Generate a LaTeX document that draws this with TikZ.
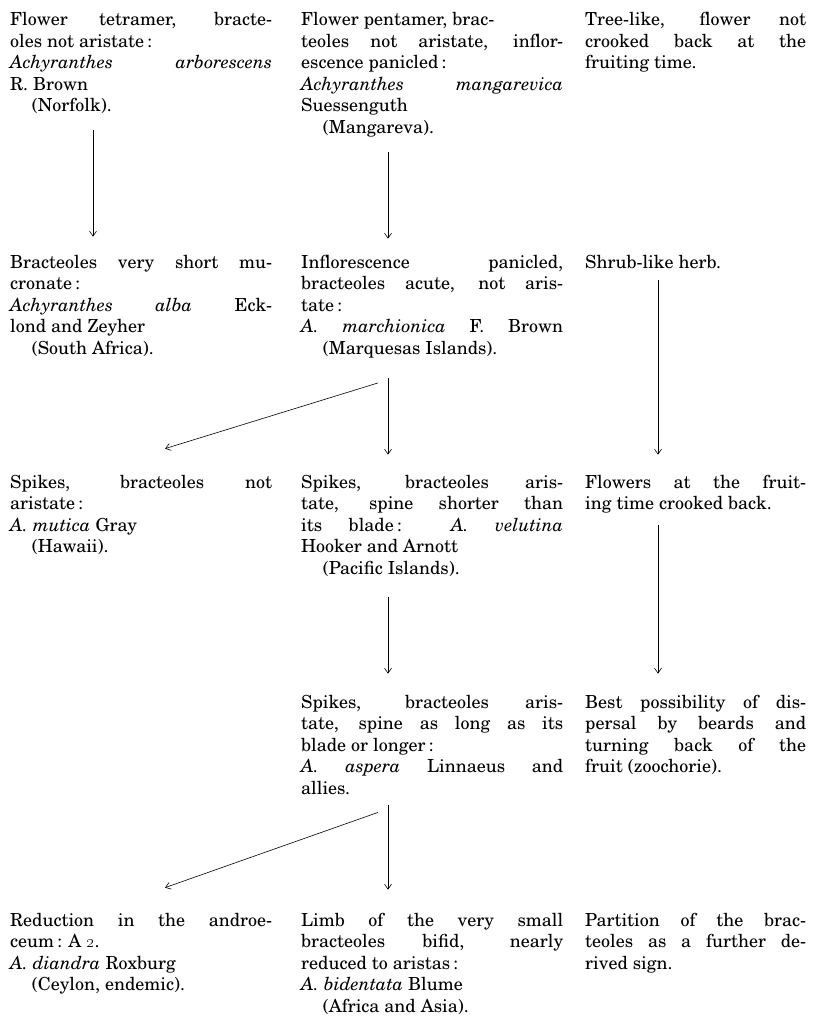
\documentclass[tikz,border=0pt]{standalone}
\usepackage[T1]{fontenc}
\usepackage{newcent}
\usetikzlibrary{arrows.meta}

\begin{document}
\begin{tikzpicture}
[%%%%%%%%%%%%%%%%%%%%%%%%%%%%%%
x=1pt,y=-1pt,
txt/.style={anchor=base west,inner sep=0pt,text width=262pt,align=justify,
  font=\fontsize{18}{21.5}\selectfont},
narrow/.style={txt,text width=221pt},
arr/.style={-{Straight Barb[length=5pt,width=7pt]},line width=0.6pt},
]%%%%%%%%%%%%%%%%%%%%%%%%%%%%%%
\useasboundingbox (0,0) rectangle (814,1016);

% first row
\node[txt] (tetra) at (10,26) {Flower tetramer, bracte-\linebreak
oles not aristate\,:\\
\textit{Achyranthes arborescens}\linebreak
R. Brown\\
\hspace*{1.2em}(Norfolk).};
\node[txt] (penta) at (301,26) {Flower pentamer, brac-\\
teoles not aristate, inflor-\linebreak
escence panicled\,:\\
\textit{Achyranthes mangarevica}\linebreak
Suessenguth\\
\hspace*{1.2em}(Mangareva).};
\node[narrow] (tree) at (585,26) {Tree-like, flower not\linebreak
crooked back at the\linebreak
fruiting time.};

% second row
\node[txt] (alba) at (10,268) {Bracteoles very short mu-\linebreak
cronate\,:\\
\textit{Achyranthes alba} Eck-\linebreak
lond and Zeyher\\
\hspace*{1.2em}(South Africa).};
\node[txt] (marchi) at (301,268) {Inflorescence panicled,\linebreak
bracteoles acute, not aris-\linebreak
tate\,:\\
\textit{A. marchionica} F. Brown\linebreak
\hspace*{1.2em}(Marquesas Islands).};
\node[narrow] (shrub) at (585,268) {Shrub-like herb.};

% third row
\node[txt] (mutica) at (10,488) {Spikes, bracteoles not\linebreak
aristate\,:\\
\textit{A. mutica} Gray\\
\hspace*{1.2em}(Hawaii).};
\node[txt] (velutina) at (301,488) {Spikes, bracteoles aris-\linebreak
tate, spine shorter than\linebreak
its blade\,: \textit{A. velutina}\linebreak
Hooker and Arnott\\
\hspace*{1.2em}(Pacific Islands).};
\node[narrow] (crook) at (585,488) {Flowers at the fruit-\linebreak
ing time crooked back.};

% fourth row
\node[txt] (aspera) at (301,708) {Spikes, bracteoles aris-\linebreak
tate, spine as long as its\linebreak
blade or longer\,:\\
\textit{A. aspera} Linnaeus and\linebreak
allies.};
\node[narrow] (zoo) at (585,708) {Best possibility of dis-\linebreak
persal by beards and\linebreak
turning back of the\linebreak
fruit (zoochorie).};

% fifth row
\node[txt] (diandra) at (10,926) {Reduction in the androe-\linebreak
ceum\,: A \oldstylenums{2}.\\
\textit{A. diandra} Roxburg\\
\hspace*{1.2em}(Ceylon, endemic).};
\node[txt] (bidentata) at (301,926) {Limb of the very small\linebreak
bracteoles bifid, nearly\linebreak
reduced to aristas\,:\\
\textit{A. bidentata} Blume\\
\hspace*{1.2em}(Africa and Asia).};
\node[narrow] (partition) at (585,926) {Partition of the brac-\linebreak
teoles as a further de-\linebreak
rived sign.};

% arrows
\draw[arr] ([shift={(83,16)}]tetra.south west) -- ([shift={(83,-18)}]alba.north west);
\draw[arr] ([shift={(87,15)}]penta.south west) -- ([shift={(87,-16)}]marchi.north west);
\draw[arr] ([shift={(87,20)}]marchi.south west) -- ([shift={(87,-20)}]velutina.north west);
\draw[arr] ([shift={(77,25)}]marchi.south west) -- ([shift={(155,-26)}]mutica.north west);
\draw[arr] ([shift={(73,12)}]shrub.south west) -- ([shift={(73,-20)}]crook.north west);
\draw[arr] ([shift={(87,21)}]velutina.south west) -- ([shift={(87,-21)}]aspera.north west);
\draw[arr] ([shift={(73,12)}]crook.south west) -- ([shift={(73,-21)}]zoo.north west);
\draw[arr] ([shift={(87,11)}]aspera.south west) -- ([shift={(87,-23)}]bidentata.north west);
\draw[arr] ([shift={(77,18)}]aspera.south west) -- ([shift={(155,-25)}]diandra.north west);
\end{tikzpicture}
\end{document}
